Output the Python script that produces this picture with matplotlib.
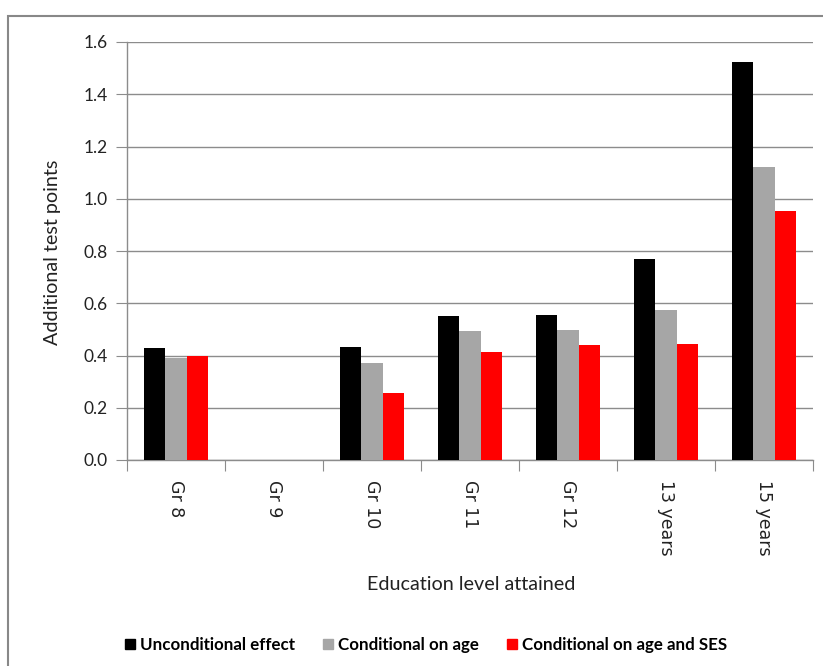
import matplotlib
matplotlib.use("Agg")
import matplotlib.pyplot as plt
import numpy as np
from matplotlib.patches import Rectangle
from matplotlib.lines import Line2D

categories = ["Gr 8", "Gr 9", "Gr 10", "Gr 11", "Gr 12", "13 years", "15 years"]
unconditional = [0.427, 0.0, 0.434, 0.552, 0.555, 0.768, 1.525]
cond_age = [0.391, 0.0, 0.371, 0.495, 0.499, 0.576, 1.120]
cond_age_ses = [0.400, 0.0, 0.257, 0.414, 0.440, 0.445, 0.954]
series_names = ["Unconditional effect", "Conditional on age", "Conditional on age and SES"]
colors = ["#000000", "#a6a6a6", "#ff0000"]
yticks = [0.0, 0.2, 0.4, 0.6, 0.8, 1.0, 1.2, 1.4, 1.6]

plt.rcParams['font.family'] = ['Lato', 'DejaVu Sans']

W, H = 823, 666
fig = plt.figure(figsize=(W / 100, H / 100), dpi=100)
ax = fig.add_axes([127 / W, 1 - 460 / H, (813 - 127) / W, (460 - 42) / H])

x = np.arange(len(categories))
bw = 0.221
for i, (vals, c) in enumerate(zip([unconditional, cond_age, cond_age_ses], colors)):
    ax.bar(x + (i - 1) * bw, vals, width=bw, color=c, zorder=3, linewidth=0)

ax.set_xlim(-0.5, len(categories) - 0.5)
ax.set_ylim(0, 1.6)
ax.set_yticks(yticks)
ax.set_yticklabels([f"{v:.1f}" for v in yticks], fontsize=12.5, color="#222222")
ax.yaxis.grid(True, color="#8c8c8c", linewidth=1.0, zorder=0)
ax.set_axisbelow(True)

ax.set_xticks(np.arange(len(categories) + 1) - 0.5, minor=False)
ax.set_xticklabels([""] * (len(categories) + 1))
ax.set_xticks(x, minor=True)
ax.set_xticklabels(categories, minor=True, rotation=270, fontsize=12.5, family=['DejaVu Sans'], color="#222222")
ax.tick_params(axis='x', which='minor', length=0, pad=14.4)
ax.tick_params(axis='x', which='major', length=8, color="#8c8c8c", direction='out')
ax.tick_params(axis='y', length=8, color="#8c8c8c", direction='out', pad=6)

for s in ["top", "right"]:
    ax.spines[s].set_visible(False)
for s in ["left", "bottom"]:
    ax.spines[s].set_color("#8c8c8c")
    ax.spines[s].set_linewidth(1.0)

ax.set_ylabel("Additional test points", fontsize=14.2, color="#222222")
ax.yaxis.set_label_coords((61 - 127) / 686, (460 - 252) / 418)
fig.text(471 / W, 1 - 585 / H, "Education level attained", ha="center", va="center", fontsize=14.2, color="#222222")

handles = [Line2D([0], [0], marker='s', linestyle='none', markersize=7.5, markerfacecolor=c, markeredgecolor=c) for c in colors]
fig.legend(handles, series_names, loc="center", bbox_to_anchor=(425 / W, 1 - 645 / H), ncol=3, frameon=False,
           handletextpad=0.19, columnspacing=1.57, handlelength=0.8,
           prop={'weight': 'bold', 'size': 12.2})

fig.patches.append(Rectangle((8 / W, -0.1), 1.2, 1 - 16 / H + 0.1, transform=fig.transFigure,
                             fill=False, edgecolor="#888888", linewidth=1.5))

fig.savefig("out.png", dpi=100)
